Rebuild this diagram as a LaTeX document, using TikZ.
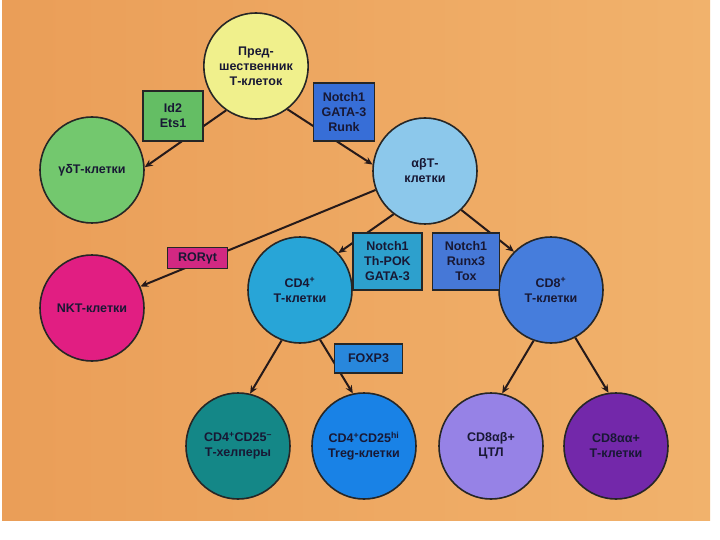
\documentclass[tikz,border=0pt]{standalone}
\usepackage{fontspec}
\setmainfont{Liberation Sans}
\usetikzlibrary{shapes.geometric,arrows.meta}
\pgfdeclarelayer{bg}
\pgfdeclarelayer{lines}
\pgfsetlayers{bg,lines,main}
\definecolor{bgleft}{RGB}{234,158,88}
\definecolor{bgright}{RGB}{241,178,108}
\definecolor{txt}{RGB}{24,24,52}
\definecolor{arrowc}{RGB}{38,26,26}
\definecolor{cpre}{RGB}{240,240,140}
\definecolor{cgd}{RGB}{115,200,110}
\definecolor{cab}{RGB}{140,200,235}
\definecolor{cnkt}{RGB}{225,30,130}
\definecolor{ccdfour}{RGB}{40,165,215}
\definecolor{ccdeight}{RGB}{70,125,220}
\definecolor{chelp}{RGB}{20,135,135}
\definecolor{ctreg}{RGB}{25,130,230}
\definecolor{ccab}{RGB}{150,130,230}
\definecolor{ccaa}{RGB}{115,40,170}
\definecolor{bid}{RGB}{100,190,100}
\definecolor{bngr}{RGB}{55,110,215}
\definecolor{bror}{RGB}{210,40,130}
\definecolor{bthpok}{RGB}{45,160,205}
\definecolor{brunx}{RGB}{70,120,215}
\definecolor{bfox}{RGB}{40,135,220}
\begin{document}
\begin{tikzpicture}[x=1pt,y=-1pt,
  cell/.style={ellipse, draw=black!85, line width=1.6pt, minimum width=104pt,
    minimum height=106pt, inner sep=0pt, align=center,
    font=\fontsize{12.5}{15}\selectfont\bfseries, text=txt},
  factor/.style={rectangle, draw=black!85, line width=1.4pt, inner sep=0pt,
    align=center, font=\fontsize{12.5}{15}\selectfont\bfseries, text=txt},
  link/.style={line width=2pt, draw=arrowc, -{Stealth[length=8pt,width=7pt]}}]
\useasboundingbox (0,0) rectangle (720,540);
\begin{pgfonlayer}{bg}
\fill[white] (0,0) rectangle (720,540);
\shade[left color=bgleft, right color=bgright] (2,0) rectangle (710,520);
\end{pgfonlayer}

% cells
\node[cell, fill=cpre] (pre) at (256,66) {Пред-\\шественник\\Т-клеток};
\node[cell, fill=cgd] (gd) at (92,170) {γδТ-клетки};
\node[cell, fill=cab] (ab) at (425,171) {αβТ-\\клетки};
\node[cell, fill=cnkt] (nkt) at (92,308) {NKT-клетки};
\node[cell, fill=ccdfour] (cd4) at (300,290) {CD4\textsuperscript{+}\\Т-клетки};
\node[cell, fill=ccdeight] (cd8) at (551,290) {CD8\textsuperscript{+}\\Т-клетки};
\node[cell, fill=chelp] (help) at (238,446) {CD4\textsuperscript{+}CD25\textsuperscript{–}\\Т-хелперы};
\node[cell, fill=ctreg] (treg) at (364,446) {CD4\textsuperscript{+}CD25\textsuperscript{hi}\\Treg-клетки};
\node[cell, fill=ccab] (cdab) at (491,446) {CD8αβ+\\ЦТЛ};
\node[cell, fill=ccaa] (cdaa) at (616,446) {CD8αα+\\Т-клетки};

% factor boxes
\node[factor, fill=bid, minimum width=60pt, minimum height=50pt] (idets) at (173,116) {Id2\\Ets1};
\node[factor, fill=bngr, minimum width=61pt, minimum height=58pt] (ngr) at (344,112) {Notch1\\GATA-3\\Runk};
\node[factor, fill=bror, minimum width=60pt, minimum height=21pt] (ror) at (197.5,258) {RORγt};
\node[factor, fill=bthpok, minimum width=69pt, minimum height=57pt] (thpok) at (387.5,261.5) {Notch1\\Th-POK\\GATA-3};
\node[factor, fill=brunx, minimum width=67pt, minimum height=57pt] (runx) at (466,261.5) {Notch1\\Runx3\\Tox};
\node[factor, fill=bfox, minimum width=68pt, minimum height=29pt] (fox) at (368.5,358.5) {FOXP3};

% connectors
\begin{pgfonlayer}{lines}
\draw[link] (pre.236) -- (gd.3);
\draw[link] (pre.306) -- (ab.173);
\draw[link] (ab.201) -- (nkt.24);
\draw[link] (ab.234) -- (cd4.44);
\draw[link] (ab.313) -- (cd8.134);
\draw[link] (cd4.250) -- (help.77);
\draw[link] (cd4.292) -- (treg.102);
\draw[link] (cd8.251) -- (cdab.78);
\draw[link] (cd8.297) -- (cdaa.98);
\end{pgfonlayer}
\end{tikzpicture}
\end{document}
